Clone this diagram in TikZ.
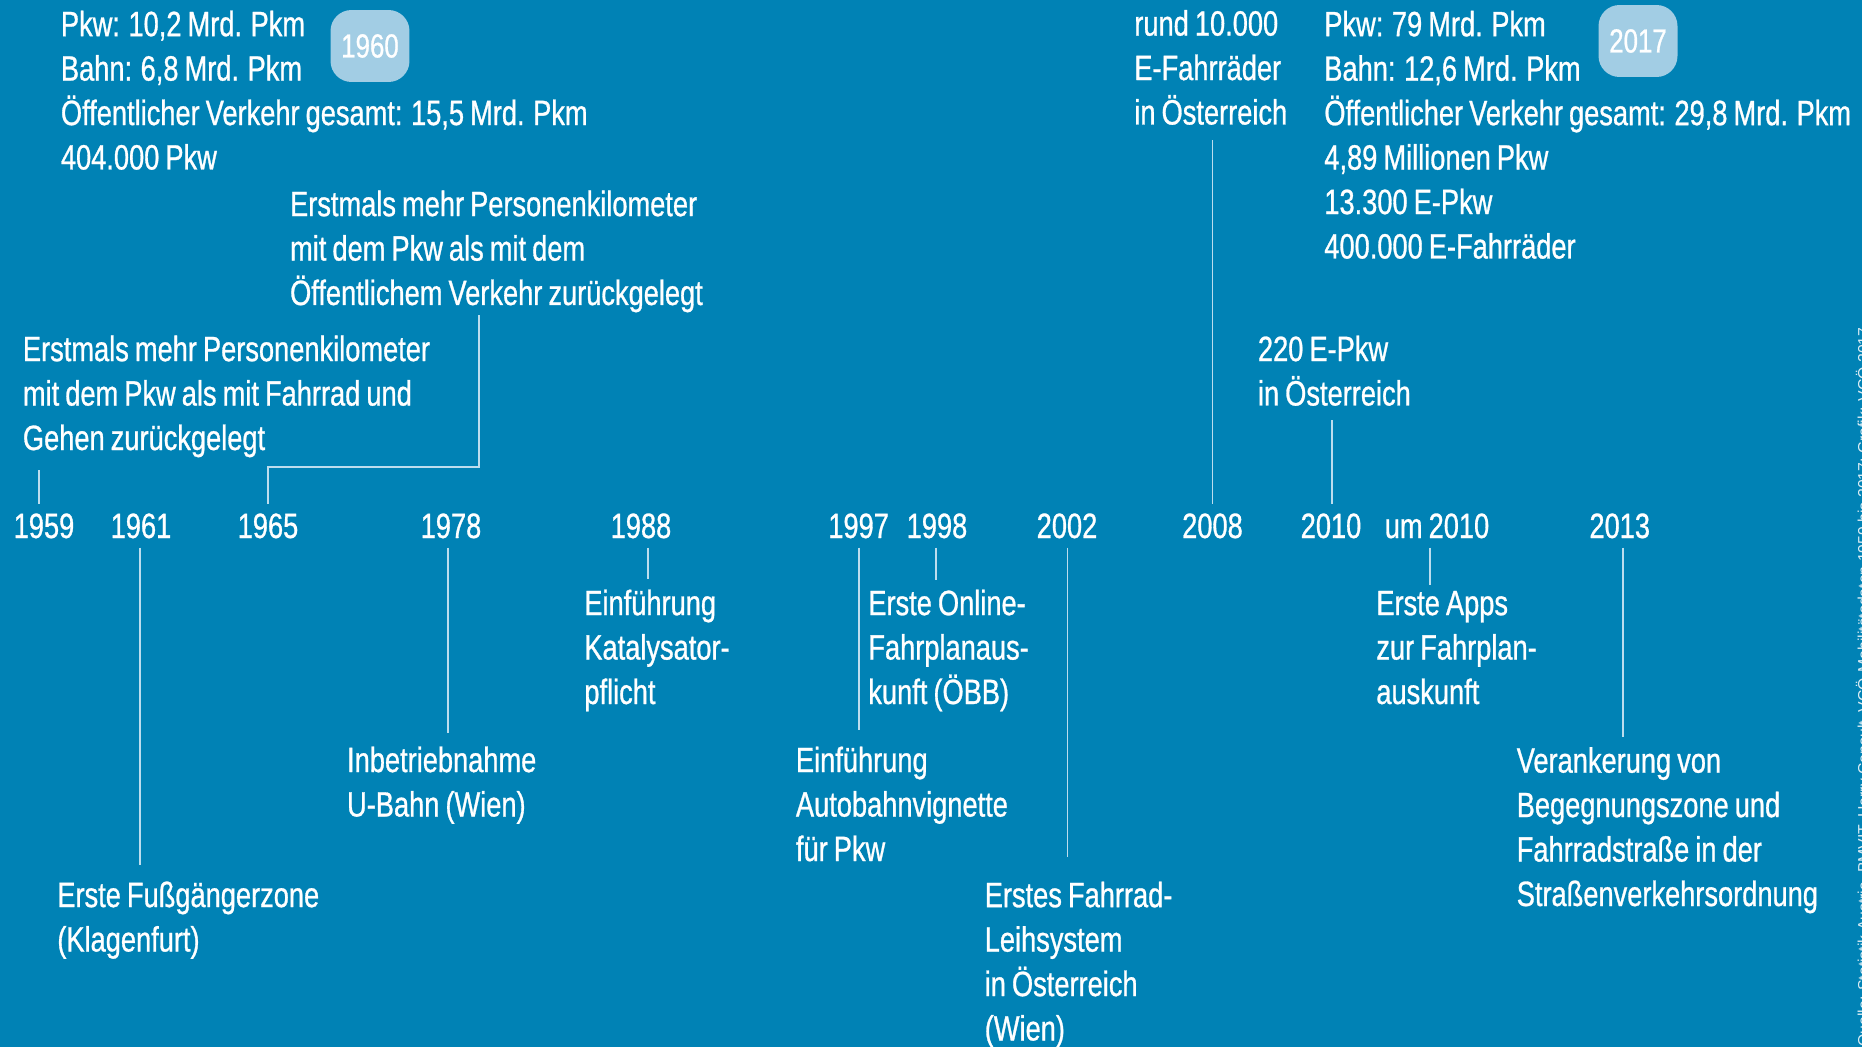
\documentclass[tikz,border=0pt]{standalone}
\usepackage{fontspec}
\setmainfont[FakeStretch=0.775,FakeBold=0.8,WordSpace=0.8]{Liberation Sans}
\newfontfamily\srcfont{Liberation Sans}
\definecolor{bg}{HTML}{0082B5}
\definecolor{badge}{HTML}{A2CDE4}
\definecolor{conncol}{HTML}{BCDDEE}
\begin{document}
\begin{tikzpicture}[x=0.02cm,y=-0.02cm,
  txt/.style={anchor=base west, inner sep=0, align=left, text=white, font=\fontsize{20}{25.3}\selectfont},
  yr/.style={anchor=base, inner sep=0, text=white, font=\fontsize{20}{25.3}\selectfont},
  conn/.style={draw=conncol, line width=1.1pt},
  badgebox/.style={fill=badge, rounded corners=0.42cm, minimum width=1.58cm, minimum height=1.44cm, inner sep=0, text=white, font=\fontsize{19}{24}\selectfont}]
\fill[bg] (0,0) rectangle (1862,1047);
\useasboundingbox (0,0) rectangle (1862,1047);
\clip (0,0) rectangle (1862,1047);

% top blocks (anchored at the baseline of the last line)
\node[txt] (tA) at (60.6,169.5) {Pkw: 10,2 Mrd. Pkm\\Bahn: 6,8 Mrd. Pkm\\Öffentlicher Verkehr gesamt: 15,5 Mrd. Pkm\\404.000 Pkw};
\node[badgebox] (b1960) at (370,46) {1960};
\node[txt] (tB) at (289.75,305) {Erstmals mehr Personenkilometer\\mit dem Pkw als mit dem\\Öffentlichem Verkehr zurückgelegt};
\node[txt] (tC) at (22.6,450) {Erstmals mehr Personenkilometer\\mit dem Pkw als mit Fahrrad und\\Gehen zurückgelegt};
\node[txt] (tD) at (1134,124.5) {rund 10.000\\E-Fahrräder\\in Österreich};
\node[txt] (tE) at (1324,258.5) {Pkw: 79 Mrd. Pkm\\Bahn: 12,6 Mrd. Pkm\\Öffentlicher Verkehr gesamt: 29,8 Mrd. Pkm\\4,89 Millionen Pkw\\13.300 E-Pkw\\400.000 E-Fahrräder};
\node[badgebox] (b2017) at (1638,41) {2017};
\node[txt] (tF) at (1257.6,405.5) {220 E-Pkw\\in Österreich};

% years
\node[yr] (y1959) at (44,538) {1959};
\node[yr] (y1961) at (141,538) {1961};
\node[yr] (y1965) at (268,538) {1965};
\node[yr] (y1978) at (451,538) {1978};
\node[yr] (y1988) at (641,538) {1988};
\node[yr] (y1997) at (858.6,538) {1997};
\node[yr] (y1998) at (937,538) {1998};
\node[yr] (y2002) at (1067,538) {2002};
\node[yr] (y2008) at (1212.5,538) {2008};
\node[yr] (y2010) at (1331,538) {2010};
\node[yr] (yum2010) at (1437,538) {um 2010};
\node[yr] (y2013) at (1619.75,538) {2013};

% bottom blocks (anchored at the baseline of the last line)
\node[txt] (t1961) at (57,951.5) {Erste Fußgängerzone\\(Klagenfurt)};
\node[txt] (t1978) at (346.75,816.5) {Inbetriebnahme\\U-Bahn (Wien)};
\node[txt] (t1988) at (584,704) {Einführung\\Katalysator-\\pflicht};
\node[txt] (t1997) at (795.6,861) {Einführung\\Autobahnvignette\\für Pkw};
\node[txt] (t1998) at (868,704) {Erste Online-\\Fahrplanaus-\\kunft (ÖBB)};
\node[txt] (t2002) at (984.4,1040.5) {Erstes Fahrrad-\\Leihsystem\\in Österreich\\(Wien)};
\node[txt] (tum2010) at (1376,704) {Erste Apps\\zur Fahrplan-\\auskunft};
\node[txt] (t2013) at (1516.4,906) {Verankerung von\\Begegnungszone und\\Fahrradstraße in der\\Straßenverkehrsordnung};

% connectors upward
\coordinate (cB) at (478.6,314.7);
\draw[conn] (y1959.north) ++(-5,-9.3) -- ++(0,-33.5);
\draw[conn] (y1965.north) ++(0,-9.3) -- ++(0,-36.5) -| (cB);
\draw[conn] (y2008.north) ++(0,-9.3) -- ++(0,-363.5);
\draw[conn] (y2010.north) ++(1,-9.3) -- ++(0,-83.5);
% connectors downward
\draw[conn] (y1961.south) ++(-1,9) -- ++(0,317.5);
\draw[conn] (y1978.south) ++(-3.3,9) -- ++(0,185.7);
\draw[conn] (y1988.south) ++(7,9) -- ++(0,31);
\draw[conn] (y1997.south) ++(0,9) -- ++(0,182);
\draw[conn] (y1998.south) ++(-1,9) -- ++(0,32.5);
\draw[conn] (y2002.south) ++(0.5,9) -- ++(0,309);
\draw[conn] (yum2010.south) ++(-7,9) -- ++(0,37);
\draw[conn] (y2013.south) ++(3,9) -- ++(0,189);

% source note at right edge (cut off)
\node[anchor=base west, inner sep=0, rotate=90, text=white!85!bg, font=\srcfont\fontsize{9}{10}\selectfont] (src) at (1869,1047) {Quelle: Statistik Austria, BMVIT, Herry Consult, VCÖ-Mobilitätsdaten 1959 bis 2017; Grafik: VCÖ 2017};
\end{tikzpicture}
\end{document}
